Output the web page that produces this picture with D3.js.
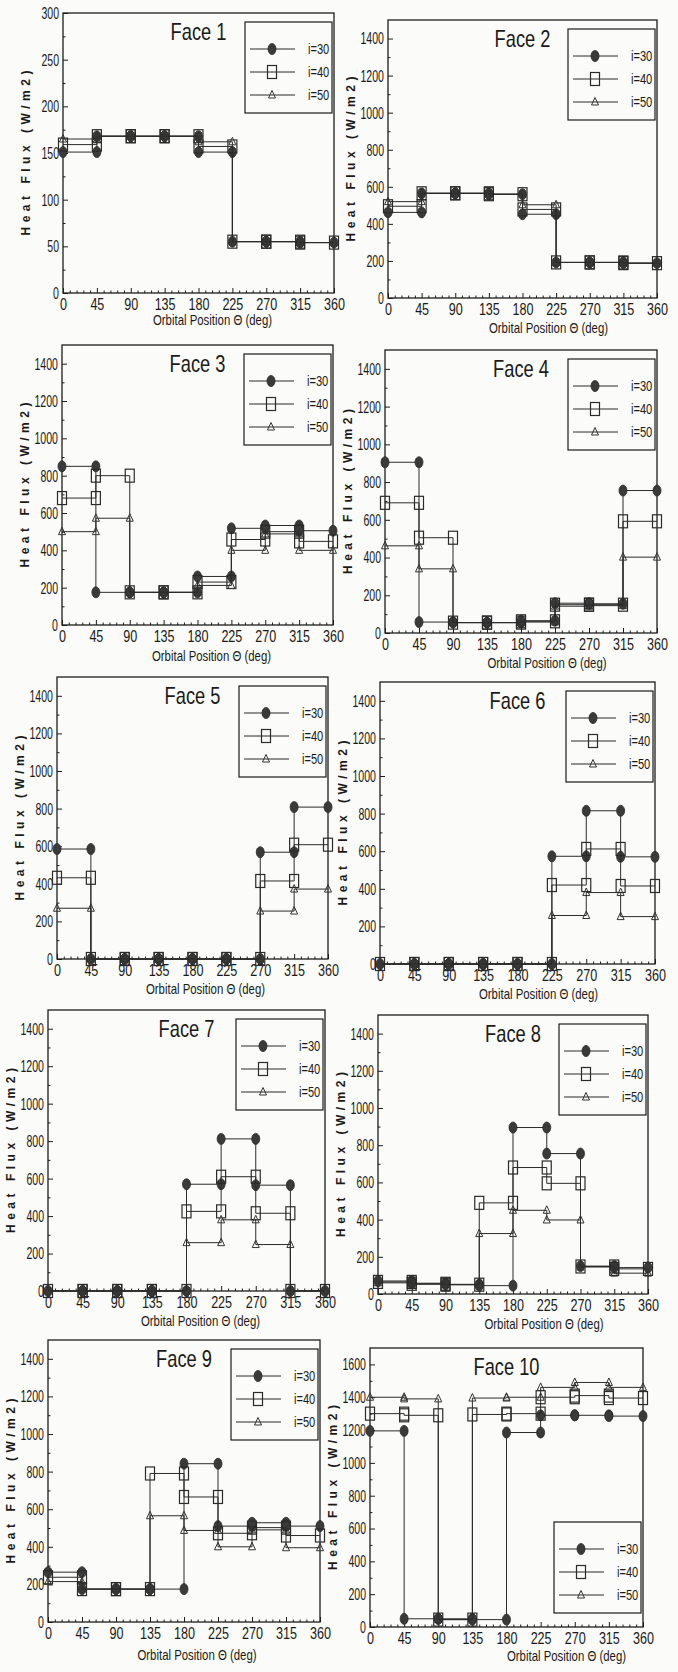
<!DOCTYPE html>
<html><head><meta charset="utf-8">
<script src="https://cdn.jsdelivr.net/npm/d3@7"></script>
<style>
body{margin:0;background:#fbfbf9;}
svg{display:block;}
text{font-family:"Liberation Sans",Arial,"DejaVu Sans",sans-serif;fill:#1a1a1a;}
</style></head><body>
<svg id="c" width="678" height="1672"></svg>
<script>
// ---------------- data ----------------
const faceNames = ["Face 1","Face 2","Face 3","Face 4","Face 5","Face 6","Face 7","Face 8","Face 9","Face 10"];
const seriesNames = ["i=30","i=40","i=50"];
const xTicks = [0,45,90,135,180,225,270,315,360];
const yTicksFace1 = [0,50,100,150,200,250,300];
const yTicksStd = [0,200,400,600,800,1000,1200,1400];
const yTicksFace10 = [0,200,400,600,800,1000,1200,1400,1600];
const yMax = [300,1500,1500,1500,1500,1500,1500,1500,1500,1700];

// heat flux per 45-degree interval (0-45, 45-90, ..., 315-360) for i=30, i=40, i=50
const face1 = [
  [151,168,168,168,151,55,55,54],
  [159,168,168,168,157,55,55,54],
  [165,168,168,168,162,55,55,54]];
const face2 = [
  [462,565,565,560,452,192,192,188],
  [495,565,565,560,478,192,192,188],
  [520,565,565,560,503,192,192,188]];
const face3 = [
  [850,175,175,175,260,518,533,505],
  [680,800,175,175,230,458,500,448],
  [500,572,175,175,212,400,488,400]];
const face4 = [
  [905,58,55,55,65,158,155,755],
  [690,505,55,55,62,150,150,592],
  [462,340,55,55,58,142,145,402]];
const face5 = [
  [585,0,0,0,0,0,568,808],
  [432,0,0,0,0,0,415,608],
  [270,0,0,0,0,0,255,372]];
const face6 = [
  [0,0,0,0,0,573,815,570],
  [0,0,0,0,0,420,612,415],
  [0,0,0,0,0,258,380,252]];
const face7 = [
  [0,0,0,0,570,812,565,0],
  [0,0,0,0,425,610,415,0],
  [0,0,0,0,258,380,248,0]];
const face8 = [
  [70,58,52,45,895,755,150,142],
  [65,55,50,490,680,595,148,135],
  [60,52,50,325,450,398,145,112]];
const face9 = [
  [265,175,175,175,842,510,528,510],
  [238,175,175,790,665,472,502,460],
  [215,175,175,565,487,400,490,395]];
const face10 = [
  [1195,50,50,45,1185,1290,1290,1285],
  [1300,1290,45,1295,1300,1400,1410,1395],
  [1400,1390,45,1395,1400,1460,1490,1460]];

const faceData = [face1,face2,face3,face4,face5,face6,face7,face8,face9,face10];
const faceYTicks = [yTicksFace1,yTicksStd,yTicksStd,yTicksStd,yTicksStd,yTicksStd,yTicksStd,yTicksStd,yTicksStd,yTicksFace10];

// ---------------- layout (positions only) ----------------
const layout = [
  {L:63, T:13,  R:334, B:293,  leg:"tr", xtDx:14, xtDy:32},
  {L:388,T:20,  R:657, B:298,  leg:"tr", xtDx:26, xtDy:35},
  {L:62, T:345, R:333, B:625,  leg:"tr", xtDx:14, xtDy:36},
  {L:385,T:350, R:657, B:633,  leg:"tr", xtDx:26, xtDy:35},
  {L:57, T:677, R:328, B:959,  leg:"tr", xtDx:13, xtDy:35},
  {L:380,T:682, R:655, B:964,  leg:"tr", xtDx:21, xtDy:35},
  {L:48, T:1010,R:325, B:1291, leg:"tr", xtDx:14, xtDy:35},
  {L:378,T:1015,R:648, B:1294, leg:"tr", xtDx:31, xtDy:35},
  {L:48, T:1340,R:320, B:1622, leg:"tr", xtDx:13, xtDy:38},
  {L:370,T:1348,R:643, B:1627, leg:"br", xtDx:60, xtDy:34}
];

const svg = d3.select("#c");
const ink = "#1c1c1c";

function drawMarker(g, s, cx, cy) {
  if (s === 0) {
    g.append("ellipse").attr("cx",cx).attr("cy",cy).attr("rx",4).attr("ry",5.5)
      .attr("fill","#3a3a3a").attr("stroke","#2a2a2a").attr("stroke-width",0.8);
  } else if (s === 1) {
    g.append("rect").attr("x",cx-4.5).attr("y",cy-6.5).attr("width",9).attr("height",13)
      .attr("fill","none").attr("stroke","#2a2a2a").attr("stroke-width",1.2);
  } else {
    g.append("path").attr("d",`M${cx},${cy-4.5}L${cx-3.5},${cy+3}L${cx+3.5},${cy+3}Z`)
      .attr("fill","none").attr("stroke","#333").attr("stroke-width",1);
  }
}

const minorX = d3.range(0,361,9).filter(v => v % 45 !== 0);

faceData.forEach((fd, k) => {
  const lay = layout[k];
  const yt = faceYTicks[k];
  const x = d3.scaleLinear().domain([0,360]).range([lay.L, lay.R]);
  const y = d3.scaleLinear().domain([0, yMax[k]]).range([lay.B, lay.T]);
  const g = svg.append("g");

  // x axis major + minor
  const xa = g.append("g").attr("transform",`translate(0,${lay.B})`)
    .call(d3.axisBottom(x).tickValues(xTicks).tickSize(-5).tickPadding(5).tickFormat(d3.format("d")));
  xa.attr("font-size",17).attr("font-family",null);
  xa.select(".domain").remove();
  xa.selectAll("line").attr("stroke",ink);
  xa.selectAll("text").attr("data-sx",0.74);
  const xm = g.append("g").attr("transform",`translate(0,${lay.B})`)
    .call(d3.axisBottom(x).tickValues(minorX).tickSize(-2.5).tickFormat(""));
  xm.select(".domain").remove();
  xm.selectAll("line").attr("stroke",ink);

  // y axis major + minor
  const step = yt[1] - yt[0];
  const minorY = d3.range(step/2, yMax[k], step);
  const ya = g.append("g").attr("transform",`translate(${lay.L},0)`)
    .call(d3.axisLeft(y).tickValues(yt).tickSize(-5).tickPadding(4).tickFormat(d3.format("d")));
  ya.attr("font-size",17).attr("font-family",null);
  ya.select(".domain").remove();
  ya.selectAll("line").attr("stroke",ink);
  ya.selectAll("text").attr("data-sx",0.62);
  const ym = g.append("g").attr("transform",`translate(${lay.L},0)`)
    .call(d3.axisLeft(y).tickValues(minorY).tickSize(-2.5).tickFormat(""));
  ym.select(".domain").remove();
  ym.selectAll("line").attr("stroke",ink);

  // box
  g.append("rect").attr("x",lay.L).attr("y",lay.T).attr("width",lay.R-lay.L).attr("height",lay.B-lay.T)
    .attr("fill","none").attr("stroke",ink).attr("stroke-width",1.3);

  // series
  fd.forEach((vals, s) => {
    const pts = [];
    vals.forEach((v,i) => { pts.push([xTicks[i], v]); pts.push([xTicks[i+1], v]); });
    g.append("path").datum(pts)
      .attr("d", d3.line().x(d => x(d[0])).y(d => y(d[1])))
      .attr("fill","none").attr("stroke","#2b2b2b").attr("stroke-width",1);
    pts.forEach(p => drawMarker(g, s, x(p[0]), y(p[1])));
  });

  // title
  g.append("text").attr("x",(lay.L+lay.R)/2).attr("y",lay.T+27).attr("text-anchor","middle")
    .attr("font-size",24).attr("data-sx",0.76).text(faceNames[k]);

  // axis titles
  g.append("text").attr("x",(lay.L+lay.R)/2 + lay.xtDx).attr("y",lay.B+lay.xtDy).attr("text-anchor","middle")
    .attr("font-size",15).attr("data-sx",0.76).text("Orbital Position \u0398 (deg)");
  g.append("text")
    .attr("transform",`translate(${lay.L-33},${(lay.T+lay.B)/2}) rotate(-90)`)
    .attr("text-anchor","middle").attr("font-size",12).attr("font-weight","bold")
    .attr("data-len",165)
    .text("Heat Flux (W/m2)");

  // legend
  const lw = 87, lh = 91;
  const lx = lay.R - 2 - lw;
  const ly = lay.leg === "tr" ? lay.T + 9 : lay.B - 14 - lh;
  const lg = g.append("g");
  lg.append("rect").attr("x",lx).attr("y",ly).attr("width",lw).attr("height",lh)
    .attr("fill","none").attr("stroke",ink).attr("stroke-width",1.2);
  seriesNames.forEach((name, s) => {
    const yy = ly + 27 + s*23;
    lg.append("line").attr("x1",lx+5).attr("x2",lx+50).attr("y1",yy).attr("y2",yy)
      .attr("stroke","#2b2b2b").attr("stroke-width",1);
    drawMarker(lg, s, lx+27, yy);
    lg.append("text").attr("x",lx+63).attr("y",yy+5).attr("font-size",15).attr("data-sx",0.74).text(name);
  });
});

// condense texts to mimic the narrow typeface of the original
svg.selectAll("text").each(function() {
  const fixed = this.getAttribute("data-len");
  const sx = this.getAttribute("data-sx");
  if (fixed) {
    this.setAttribute("textLength", fixed);
    this.setAttribute("lengthAdjust", "spacing");
  } else if (sx) {
    const w = this.getComputedTextLength();
    this.setAttribute("textLength", (w * +sx).toFixed(1));
    this.setAttribute("lengthAdjust", "spacingAndGlyphs");
  }
});
</script>
</body></html>
